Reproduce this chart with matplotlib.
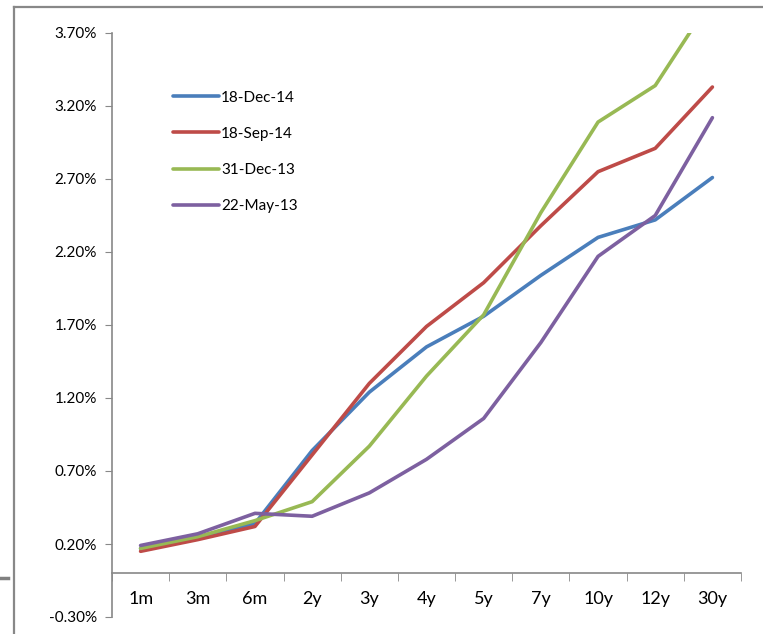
import numpy as np
import matplotlib.pyplot as plt
from matplotlib.lines import Line2D

plt.rcParams['font.family'] = ['Lato', 'DejaVu Sans']

# Yield curve tenors and yields (%)
tenors = ['1m', '3m', '6m', '2y', '3y', '4y', '5y', '7y', '10y', '12y', '30y']
dec14 = [0.17, 0.24, 0.34, 0.84, 1.24, 1.55, 1.76, 2.04, 2.30, 2.42, 2.71]
sep14 = [0.15, 0.23, 0.32, 0.81, 1.30, 1.69, 1.99, 2.38, 2.75, 2.91, 3.33]
dec13 = [0.17, 0.25, 0.36, 0.49, 0.87, 1.35, 1.77, 2.47, 3.09, 3.34, 3.94]
may13 = [0.19, 0.27, 0.41, 0.39, 0.55, 0.78, 1.06, 1.58, 2.17, 2.45, 3.12]

series = [('18-Dec-14', dec14, '#4A7EBB'),
          ('18-Sep-14', sep14, '#BE4B48'),
          ('31-Dec-13', dec13, '#98B954'),
          ('22-May-13', may13, '#7D60A0')]

fig = plt.figure(figsize=(7.63, 6.34), dpi=100)
ax = fig.add_axes([112/763, 1 - 617/634, (741 - 112)/763, (617 - 33)/634])

x = np.arange(len(tenors))
for name, vals, col in series:
    ax.plot(x, vals, color=col, lw=2.6, label=name, solid_capstyle='round')

ax.set_xlim(-0.5, len(tenors) - 0.5)
ax.set_ylim(-0.30, 3.70)
yt = np.arange(-0.30, 3.71, 0.5)
ax.set_yticks(yt)
ax.set_yticklabels([f'{v:.2f}%' for v in yt])

ax.set_xticks(x)
ax.set_xticklabels(tenors)
ax.set_xticks(np.arange(-0.5, len(tenors)), minor=True)
ax.tick_params(axis='x', which='major', length=0, pad=13, labelsize=13)
ax.tick_params(axis='x', which='minor', length=6, direction='out', color='#888888')
ax.tick_params(axis='y', length=5, direction='out', color='#888888', pad=6, labelsize=11)

for s in ['top', 'right']:
    ax.spines[s].set_visible(False)
ax.spines['bottom'].set_position(('data', 0))
for s in ['left', 'bottom']:
    ax.spines[s].set_color('#888888')
    ax.spines[s].set_linewidth(1.2)

leg = ax.legend(loc='upper left', bbox_to_anchor=(0.075, 0.925), frameon=False,
                fontsize=11, handlelength=3.0, handletextpad=0.15,
                labelspacing=1.45)

# outer frame
fig.add_artist(Line2D([14/763, 1], [1 - 7/634, 1 - 7/634], color='#888888', lw=1.6))
fig.add_artist(Line2D([14/763, 14/763], [0, 1 - 7/634], color='#888888', lw=1.6))
fig.add_artist(Line2D([0, 8/763], [1 - 578/634, 1 - 578/634], color='#808080', lw=2.5))

fig.savefig('out.png', dpi=100)
